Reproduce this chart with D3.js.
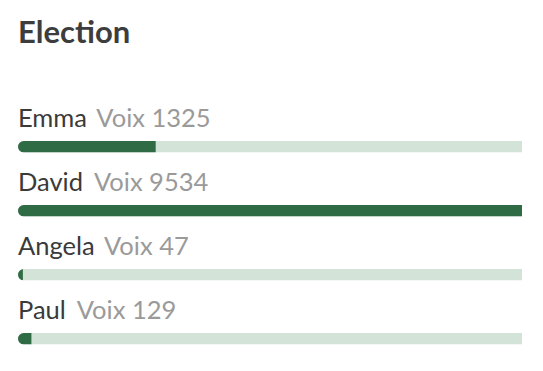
<!DOCTYPE html>
<html>
<head>
<meta charset="utf-8">
<script src="https://cdn.jsdelivr.net/npm/d3@7"></script>
<style>
  body { margin: 0; background: #fff; }
  svg { display: block; font-family: Lato, sans-serif; }
</style>
</head>
<body>
<svg id="chart"></svg>
<script>
const title = 'Election';
const candidates = ['Emma', 'David', 'Angela', 'Paul'];
const votes = [1325, 9534, 47, 129];
const valuePrefix = 'Voix';
// the bars look capped, full track ~ 4850 votes
const fullTrack = 4850;

const width = 543, height = 371;
const margin = { left: 18, right: 21 };

const svg = d3.select('#chart')
  .attr('width', width)
  .attr('height', height);

svg.append('text')
  .attr('x', margin.left)
  .attr('y', 43)
  .attr('font-weight', 700)
  .attr('font-size', '31px')
  .attr('fill', '#3d3d3d')
  .text(title);

const y = d3.scaleBand()
  .domain(candidates)
  .range([95, 351])
  .paddingInner(0)
  .paddingOuter(0);

const x = d3.scaleLinear()
  .domain([0, fullTrack])
  .range([margin.left, width - margin.right])
  .clamp(true);

const barH = 11.5;
const r = barH / 2;
const barY = 46;

// track shape: rounded left end, square right end
const trackPath = () => {
  const x0 = x.range()[0], x1 = x.range()[1];
  return `M${x0 + r},0 H${x1} V${barH} H${x0 + r} A${r},${r} 0 0 1 ${x0 + r},0 Z`;
};

svg.append('defs').append('clipPath')
  .attr('id', 'track-clip')
  .append('path')
    .attr('d', trackPath());

const rows = svg.selectAll('.row')
  .data(candidates.map((name, i) => ({ name, votes: votes[i] })))
  .enter().append('g')
    .attr('class', 'row')
    .attr('transform', d => `translate(0,${y(d.name)})`);

const label = rows.append('text')
  .attr('x', margin.left)
  .attr('y', 32)
  .attr('font-size', '25.5px');

label.append('tspan')
  .attr('fill', '#3a3a3a')
  .text(d => d.name);

label.append('tspan')
  .attr('dx', 11)
  .attr('fill', '#9a9a9a')
  .text(d => `${valuePrefix} ${d.votes}`);

const bar = rows.append('g')
  .attr('transform', `translate(0,${barY})`)
  .attr('clip-path', 'url(#track-clip)');

bar.append('rect')
  .attr('x', x(0))
  .attr('width', x.range()[1] - x(0))
  .attr('height', barH)
  .attr('fill', '#d3e3d8');

bar.append('rect')
  .attr('x', x(0))
  .attr('width', d => x(d.votes) - x(0))
  .attr('height', barH)
  .attr('fill', '#2f6b45');
</script>
</body>
</html>
